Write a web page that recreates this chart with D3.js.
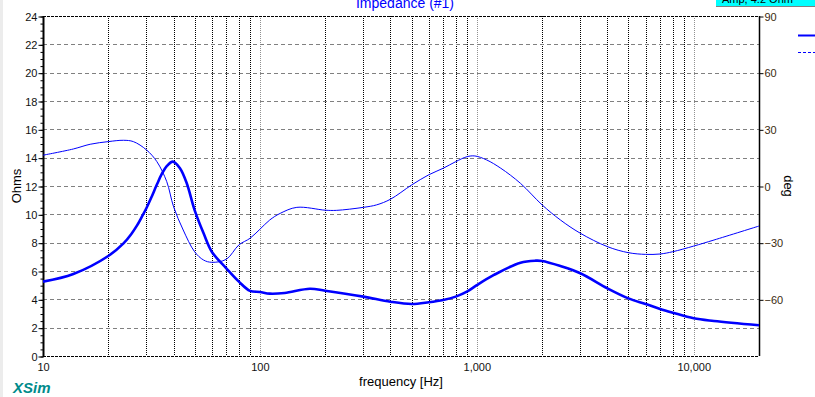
<!DOCTYPE html>
<html>
<head>
<meta charset="utf-8">
<script src="https://cdn.jsdelivr.net/npm/d3@7"></script>
<style>
  body { margin: 0; background: #fff; }
  svg { font-family: "Liberation Sans", Arial, sans-serif; display: block; }
</style>
</head>
<body>
<svg width="815" height="397"></svg>
<script>
// impedance magnitude (Ohms)
const magFreq = [10, 13.8, 20, 23.5, 25.5, 27.1, 28.5, 30, 31.5, 33.5, 35.3, 37.2, 39.7, 42.8, 46, 50, 55, 60, 70, 80, 90, 100, 111, 130, 170, 200, 300, 400, 500, 600, 700, 800, 900, 1000, 1200, 1590, 1865, 2000, 2430, 3000, 4000, 5000, 6000, 7000, 8000, 10000, 12400, 20000]
const magOhms = [5.25, 5.79, 7.06, 7.95, 8.6, 9.2, 9.8, 10.45, 11.15, 12.1, 12.85, 13.4, 13.72, 13.25, 12.19, 10.3, 8.66, 7.36, 6.19, 5.25, 4.6, 4.52, 4.4, 4.45, 4.75, 4.61, 4.19, 3.83, 3.67, 3.79, 3.95, 4.19, 4.54, 5.0, 5.72, 6.59, 6.73, 6.71, 6.35, 5.84, 4.78, 4.07, 3.67, 3.32, 3.06, 2.66, 2.47, 2.17]

// phase (deg)
const phaseFreq = [10, 13.8, 16.5, 20, 23.5, 26.1, 30, 33.5, 37.2, 40, 44.3, 50, 55, 60, 70, 80, 90, 100, 111, 124, 148, 200, 225, 300, 345, 400, 500, 600, 700, 800, 900, 980, 1110, 1290, 1590, 2000, 2430, 3000, 4000, 5000, 6000, 7000, 8000, 10000, 12400, 20000]
const phaseDeg = [16.3, 19.6, 22.1, 23.5, 24.2, 23.5, 19.1, 12.9, 2.3, -11, -23.3, -34.8, -39.2, -40.4, -38.8, -31.2, -27.7, -22.9, -18, -14.5, -11.3, -12.8, -12.9, -11.3, -10, -7, 0.5, 5.9, 9.4, 12.9, 15.5, 15.9, 13.8, 9.4, 1.4, -10, -18, -25, -32.1, -35.3, -36.2, -36, -34.8, -31.8, -28.6, -21.2]

const ohmTicks = d3.range(0, 25, 2)
const degTicks = [-60, -30, 0, 30, 60, 90]
const freqTicks = [10, 100, 1000, 10000]

const svg = d3.select('svg')
const plotL = 43, plotR = 759, plotT = 16, plotB = 356

const x = d3.scaleLog().domain([10, 20000]).range([plotL, plotR])
const y = d3.scaleLinear().domain([0, 24]).range([plotB, plotT])
const yDeg = d3.scaleLinear().domain([-90, 90]).range([plotB, plotT])

// faint window edge on the left
svg.append('rect').attr('x', 0).attr('y', 0).attr('width', 3).attr('height', 397).attr('fill', '#ececec')

// vertical grid, dotted
let vlines = []
for (let dec = 10; dec <= 10000; dec *= 10) {
    for (let k = 1; k <= 9; k++) {
        let f = dec * k
        if (f > 10 && f < 20000) vlines.push(f)
    }
}
svg.append('g').selectAll('line')
    .data(vlines)
    .enter().append('line')
    .attr('x1', d => Math.round(x(d)) + 0.5)
    .attr('x2', d => Math.round(x(d)) + 0.5)
    .attr('y1', plotT)
    .attr('y2', plotB)
    .attr('stroke', d => freqTicks.includes(d) ? '#909090' : '#000')
    .attr('stroke-dasharray', '1,1')

// horizontal grid, dashed
svg.append('g').selectAll('line')
    .data(ohmTicks.filter(d => d > 0 && d < 24))
    .enter().append('line')
    .attr('x1', plotL)
    .attr('x2', plotR)
    .attr('y1', d => Math.round(y(d)) + 0.5)
    .attr('y2', d => Math.round(y(d)) + 0.5)
    .attr('stroke', '#808080')
    .attr('stroke-dasharray', '4,3')

// top and bottom borders
;[plotT, plotB].forEach(yy => {
    svg.append('line')
        .attr('x1', plotL).attr('x2', plotR)
        .attr('y1', yy + 0.5).attr('y2', yy + 0.5)
        .attr('stroke', '#000')
        .attr('stroke-dasharray', '3,1')
})

// left axis
let minor = svg.append('g')
    .attr('transform', `translate(${plotL + 0.5},0.5)`)
    .call(d3.axisLeft(y).tickValues(d3.range(0, 24.01, 0.5)).tickSize(3).tickFormat(''))
minor.select('.domain').remove()

let yAxis = svg.append('g')
    .attr('transform', `translate(${plotL + 0.5},0.5)`)
    .call(d3.axisLeft(y).tickValues(ohmTicks).tickSize(5).tickPadding(1))
yAxis.select('.domain').remove()
yAxis.selectAll('text').attr('font-size', 11).attr('fill', '#111')
    .attr('font-family', '"Liberation Sans", Arial, sans-serif')

svg.append('line')
    .attr('x1', plotL + 0.5).attr('x2', plotL + 0.5)
    .attr('y1', plotT).attr('y2', plotB + 1)
    .attr('stroke', '#000').attr('stroke-width', 2)

// right axis
let rAxis = svg.append('g')
    .attr('transform', `translate(${plotR + 0.5},0.5)`)
    .call(d3.axisRight(yDeg).tickValues(degTicks).tickSize(4).tickPadding(1))
rAxis.select('.domain').remove()
rAxis.selectAll('text').attr('font-size', 11).attr('fill', '#3a2a10')
    .attr('font-family', '"Liberation Sans", Arial, sans-serif')

svg.append('line')
    .attr('x1', plotR + 0.5).attr('x2', plotR + 0.5)
    .attr('y1', plotT).attr('y2', plotB)
    .attr('stroke', '#000').attr('stroke-width', 1.5)

// bottom labels
let xAxis = svg.append('g')
    .attr('transform', `translate(0,${plotB + 1})`)
    .call(d3.axisBottom(x).tickValues(freqTicks).tickSize(0).tickPadding(6).tickFormat(d3.format(',')))
xAxis.select('.domain').remove()
xAxis.selectAll('text').attr('font-size', 11).attr('fill', '#111')
    .attr('font-family', '"Liberation Sans", Arial, sans-serif')

// curves
let magLine = d3.line()
    .x((d, i) => x(magFreq[i]))
    .y(d => y(d))
    .curve(d3.curveCatmullRom.alpha(0.5))

let phaseLine = d3.line()
    .x((d, i) => x(phaseFreq[i]))
    .y(d => yDeg(d))
    .curve(d3.curveCatmullRom.alpha(0.5))

svg.append('path')
    .datum(phaseDeg)
    .attr('d', phaseLine)
    .attr('fill', 'none')
    .attr('stroke', '#0000ff')
    .attr('stroke-width', 1)

svg.append('path')
    .datum(magOhms)
    .attr('d', magLine)
    .attr('fill', 'none')
    .attr('stroke', '#0000ff')
    .attr('stroke-width', 2.6)

// title (runs off the top, as in the source window)
svg.append('text')
    .attr('x', 405).attr('y', 8)
    .attr('text-anchor', 'middle')
    .attr('font-size', 14)
    .attr('fill', '#0000ff')
    .text('Impedance (#1)')

// cyan info box, mostly cut off
svg.append('rect').attr('x', 716).attr('y', -10).attr('width', 100).attr('height', 16).attr('fill', '#00ffff')
svg.append('line').attr('x1', 716).attr('x2', 815).attr('y1', 6.5).attr('y2', 6.5).attr('stroke', '#808080')
svg.append('text')
    .attr('x', 722).attr('y', 3)
    .attr('font-size', 11)
    .attr('fill', '#000')
    .text('Amp, 4.2 Ohm')

// legend
svg.append('line').attr('x1', 798).attr('x2', 815).attr('y1', 35.5).attr('y2', 35.5)
    .attr('stroke', '#0000ff').attr('stroke-width', 2)
svg.append('line').attr('x1', 798).attr('x2', 815).attr('y1', 52.5).attr('y2', 52.5)
    .attr('stroke', '#0000ff').attr('stroke-width', 1).attr('stroke-dasharray', '3,2')

// axis titles
svg.append('text')
    .attr('transform', 'translate(21,186) rotate(-90)')
    .attr('text-anchor', 'middle')
    .attr('font-size', 13)
    .attr('fill', '#000')
    .text('Ohms')

svg.append('text')
    .attr('transform', 'translate(784,186) rotate(90)')
    .attr('text-anchor', 'middle')
    .attr('font-size', 13)
    .attr('fill', '#000')
    .text('deg')

svg.append('text')
    .attr('x', 401).attr('y', 386)
    .attr('text-anchor', 'middle')
    .attr('font-size', 13)
    .attr('fill', '#000')
    .text('frequency [Hz]')

svg.append('text')
    .attr('x', 13).attr('y', 393)
    .attr('font-size', 15)
    .attr('font-weight', 'bold')
    .attr('font-style', 'italic')
    .attr('fill', '#008b8b')
    .text('XSim')
</script>
</body>
</html>
